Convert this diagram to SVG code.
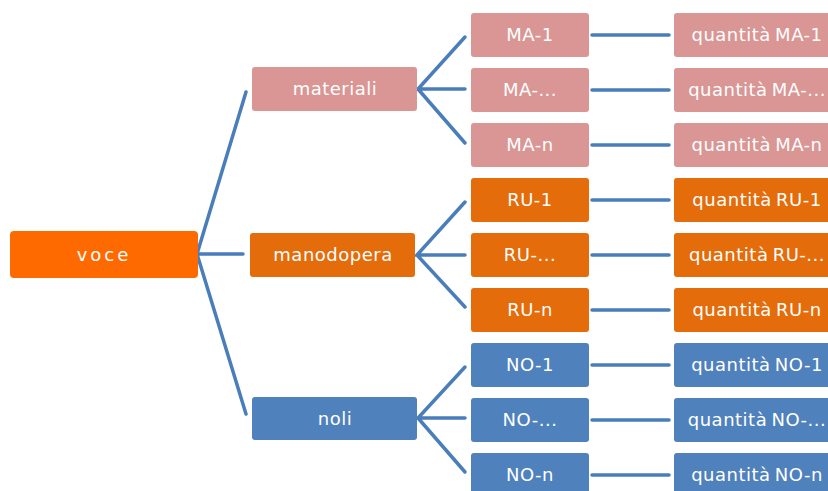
<svg xmlns="http://www.w3.org/2000/svg" width="828" height="491" viewBox="0 0 828 491">
<style>
.t{font-family:"DejaVu Sans","Liberation Sans",sans-serif;font-size:18px;fill:#fff;text-anchor:middle;letter-spacing:0.5px}
.q{word-spacing:-2px}
.pk{fill:#D99694}
.or{fill:#E46C0A}
.bl{fill:#4F81BD}
.vo{fill:#FF6A00}
.c{stroke:#4A7EBB;stroke-width:3.5;fill:none;stroke-linecap:round}
</style>
<rect width="828" height="491" fill="#fff"/>
<g id="connectors">
<path class="c" d="M246 92 L197 254 L243 254 M197 254 L246 414"/>
<path class="c" d="M465 37 L418 89 L465 89 M418 89 L465 143"/>
<path class="c" d="M465 202 L417 255 L465 255 M417 255 L465 307"/>
<path class="c" d="M465 367 L418 418 L465 418 M418 418 L465 472"/>
<path class="c" d="M592 35 H669 M592 90 H669 M592 145 H669 M592 200 H669 M592 255 H669 M592 310 H669 M592 365 H669 M592 420 H669 M592 475 H669"/>
</g>
<g id="voce"><rect class="vo" x="10" y="231" width="188" height="47" rx="4"/><text class="t" x="104" y="261" style="letter-spacing:3px">voce</text></g>
<g id="materiali"><rect class="pk" x="252" y="67" width="165" height="44" rx="3"/><text class="t" x="335" y="95">materiali</text></g>
<g id="manodopera"><rect class="or" x="250" y="233" width="165" height="44" rx="3"/><text class="t" x="333" y="261">manodopera</text></g>
<g id="noli"><rect class="bl" x="252" y="397" width="165" height="43" rx="3"/><text class="t" x="335" y="425">noli</text></g>
<g id="ma1"><rect class="pk" x="471" y="13" width="118" height="44" rx="3"/><text class="t" x="530" y="41">MA-1</text></g>
<g id="ma2"><rect class="pk" x="471" y="68" width="118" height="44" rx="3"/><text class="t" x="530" y="96">MA-...</text></g>
<g id="man"><rect class="pk" x="471" y="123" width="118" height="44" rx="3"/><text class="t" x="530" y="151">MA-n</text></g>
<g id="ru1"><rect class="or" x="471" y="178" width="118" height="44" rx="3"/><text class="t" x="530" y="206">RU-1</text></g>
<g id="ru2"><rect class="or" x="471" y="233" width="118" height="44" rx="3"/><text class="t" x="530" y="261">RU-...</text></g>
<g id="run"><rect class="or" x="471" y="288" width="118" height="44" rx="3"/><text class="t" x="530" y="316">RU-n</text></g>
<g id="no1"><rect class="bl" x="471" y="343" width="118" height="44" rx="3"/><text class="t" x="530" y="371">NO-1</text></g>
<g id="no2"><rect class="bl" x="471" y="398" width="118" height="44" rx="3"/><text class="t" x="530" y="426">NO-...</text></g>
<g id="non"><rect class="bl" x="471" y="453" width="118" height="44" rx="3"/><text class="t" x="530" y="481">NO-n</text></g>
<g id="qma1"><rect class="pk" x="674" y="13" width="170" height="44" rx="3"/><text class="t q" x="757" y="41">quantità MA-1</text></g>
<g id="qma2"><rect class="pk" x="674" y="68" width="170" height="44" rx="3"/><text class="t q" x="757" y="96">quantità MA-...</text></g>
<g id="qman"><rect class="pk" x="674" y="123" width="170" height="44" rx="3"/><text class="t q" x="757" y="151">quantità MA-n</text></g>
<g id="qru1"><rect class="or" x="674" y="178" width="170" height="44" rx="3"/><text class="t q" x="757" y="206">quantità RU-1</text></g>
<g id="qru2"><rect class="or" x="674" y="233" width="170" height="44" rx="3"/><text class="t q" x="757" y="261">quantità RU-...</text></g>
<g id="qrun"><rect class="or" x="674" y="288" width="170" height="44" rx="3"/><text class="t q" x="757" y="316">quantità RU-n</text></g>
<g id="qno1"><rect class="bl" x="674" y="343" width="170" height="44" rx="3"/><text class="t q" x="757" y="371">quantità NO-1</text></g>
<g id="qno2"><rect class="bl" x="674" y="398" width="170" height="44" rx="3"/><text class="t q" x="757" y="426">quantità NO-...</text></g>
<g id="qnon"><rect class="bl" x="674" y="453" width="170" height="44" rx="3"/><text class="t q" x="757" y="481">quantità NO-n</text></g>
</svg>
